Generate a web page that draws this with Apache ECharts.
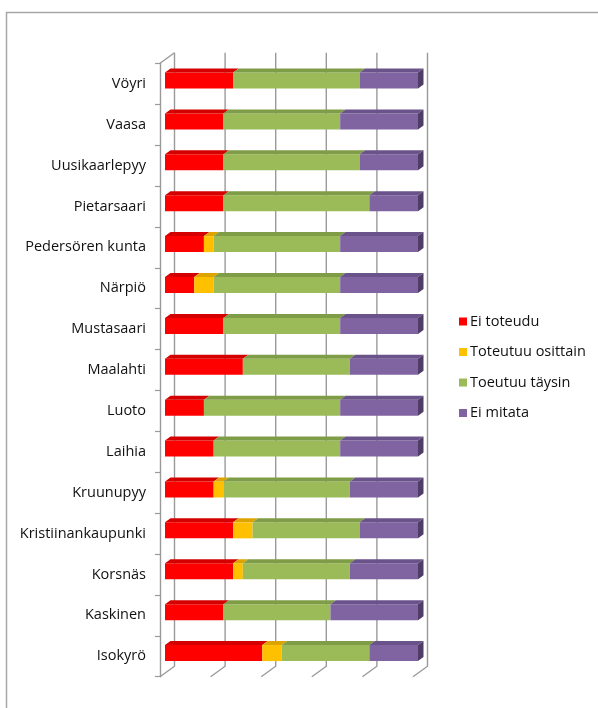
<!DOCTYPE html>
<html>
<head>
<meta charset="utf-8">
<script src="https://cdn.jsdelivr.net/npm/echarts@6/dist/echarts.min.js"></script>
<style>
  html, body { margin: 0; padding: 0; background: #fff; }
  #chart { width: 598px; height: 708px; }
</style>
</head>
<body>
<div id="chart"></div>
<script>
// Municipalities, top to bottom
const categories = ['Vöyri', 'Vaasa', 'Uusikaarlepyy', 'Pietarsaari', 'Pedersören kunta', 'Närpiö',
  'Mustasaari', 'Maalahti', 'Luoto', 'Laihia', 'Kruunupyy', 'Kristiinankaupunki', 'Korsnäs',
  'Kaskinen', 'Isokyrö'];

// Number of indicators in each status (26 indicators per municipality)
const eiToteudu       = [7, 6, 6, 6, 4, 3, 6, 8, 4, 5, 5, 7, 7, 6, 10];
const toteutuuOsittain = [0, 0, 0, 0, 1, 2, 0, 0, 0, 0, 1, 2, 1, 0, 2];
const toeutuuTaysin   = [13, 12, 14, 15, 13, 13, 12, 11, 14, 13, 13, 11, 11, 11, 9];
const eiMitata        = [6, 8, 6, 5, 8, 8, 8, 7, 8, 8, 7, 6, 7, 9, 5];

const seriesNames = ['Ei toteudu', 'Toteutuu osittain', 'Toeutuu täysin', 'Ei mitata'];
const indicatorCount = 26;
const gridValues = [0, 5.2, 10.4, 15.6, 20.8, 26];

const segments = [eiToteudu, toteutuuOsittain, toeutuuTaysin, eiMitata];
const frontColors = ['#FF0000', '#FFC000', '#9BBB59', '#8064A2'];
const topColors   = ['#D40000', '#DDA400', '#7F9C46', '#6A528A'];
const sideColor   = '#4F3D68';

// pseudo-3D geometry (pixels)
const WALL_DX = 14.5, WALL_DY = -10.5;   // back wall offset from the front floor edge
const BAR_DX = 5, BAR_DY = -3.2;          // bar front face offset from the front floor edge
const BAR_DEPTH_X = 5.5, BAR_DEPTH_Y = -4;
const BAR_H = 16;
const LINE_COLOR = '#9a9a9a';
const FONT = '"Open Sans", sans-serif';

function wallRenderer(params, api) {
  const cs = params.coordSys;
  const x = api.coord([api.value(0), 0])[0];
  const top = cs.y, bottom = cs.y + cs.height;
  const lineStyle = { stroke: LINE_COLOR, lineWidth: 1.4, fill: null };
  const children = [{
    type: 'polyline',
    shape: { points: [[x + WALL_DX, top + WALL_DY], [x + WALL_DX, bottom + WALL_DY], [x, bottom]] },
    style: lineStyle
  }];
  if (params.dataIndex === 0) {
    children.push({
      type: 'line',
      shape: { x1: x, y1: top, x2: x + WALL_DX, y2: top + WALL_DY },
      style: lineStyle
    });
  }
  return { type: 'group', children: children };
}

function barRenderer(sIdx) {
  return function (params, api) {
    const val = api.value(0);
    const cat = api.value(1);
    if (!val) return null;
    let start = 0;
    for (let k = 0; k < sIdx; k++) start += segments[k][cat];
    const end = start + val;
    const p0 = api.coord([start, cat]);
    const p1 = api.coord([end, cat]);
    const x0 = p0[0] + BAR_DX, x1 = p1[0] + BAR_DX;
    const yc = p0[1] + BAR_DY;
    const yT = yc - BAR_H / 2, yB = yc + BAR_H / 2;
    const children = [
      {
        type: 'rect',
        shape: { x: x0, y: yT, width: x1 - x0, height: BAR_H },
        style: { fill: frontColors[sIdx] }
      },
      {
        type: 'polygon',
        shape: { points: [[x0, yT], [x1, yT], [x1 + BAR_DEPTH_X, yT + BAR_DEPTH_Y], [x0 + BAR_DEPTH_X, yT + BAR_DEPTH_Y]] },
        style: { fill: topColors[sIdx] }
      }
    ];
    if (end >= indicatorCount) {
      children.push({
        type: 'polygon',
        shape: { points: [[x1, yT], [x1 + BAR_DEPTH_X, yT + BAR_DEPTH_Y], [x1 + BAR_DEPTH_X, yB + BAR_DEPTH_Y], [x1, yB]] },
        style: { fill: sideColor }
      });
    }
    return { type: 'group', children: children };
  };
}

const chart = echarts.init(document.getElementById('chart'), null, { renderer: 'canvas' });

const series = [{
  type: 'custom',
  name: 'walls',
  renderItem: wallRenderer,
  encode: { x: 0, y: 1 },
  data: gridValues.map(v => [v, 0]),
  silent: true,
  z: 1
}];
segments.forEach((arr, s) => {
  series.push({
    type: 'custom',
    name: seriesNames[s],
    renderItem: barRenderer(s),
    encode: { x: 0, y: 1 },
    itemStyle: { color: frontColors[s] },
    data: arr.map((v, i) => [v, i]),
    z: 2
  });
});

chart.setOption({
  animation: false,
  backgroundColor: '#ffffff',
  textStyle: { fontFamily: FONT },
  graphic: [{
    type: 'rect',
    shape: { x: 6.5, y: 12.5, width: 800, height: 800 },
    style: { fill: null, stroke: '#a6a6a6', lineWidth: 1.5 },
    silent: true
  }],
  grid: { left: 160, top: 63.3, width: 253, height: 613.4 },
  xAxis: {
    type: 'value',
    min: 0,
    max: indicatorCount,
    interval: 5.2,
    axisLine: { show: false },
    axisTick: { show: false },
    axisLabel: { show: false },
    splitLine: { show: false }
  },
  yAxis: {
    type: 'category',
    inverse: true,
    data: categories,
    axisLine: { show: true, lineStyle: { color: LINE_COLOR, width: 1.4 } },
    axisTick: { show: true, length: 5, lineStyle: { color: LINE_COLOR, width: 1.2 } },
    axisLabel: { margin: 14, fontSize: 14.5, color: '#111', fontFamily: FONT }
  },
  legend: {
    orient: 'vertical',
    left: 454,
    top: 309,
    itemWidth: 8,
    itemHeight: 8,
    itemGap: 15.5,
    icon: 'rect',
    data: seriesNames,
    textStyle: { fontSize: 14.5, color: '#111', fontFamily: FONT, padding: [0, 0, 0, -2] }
  },
  series: series
});
</script>
</body>
</html>
